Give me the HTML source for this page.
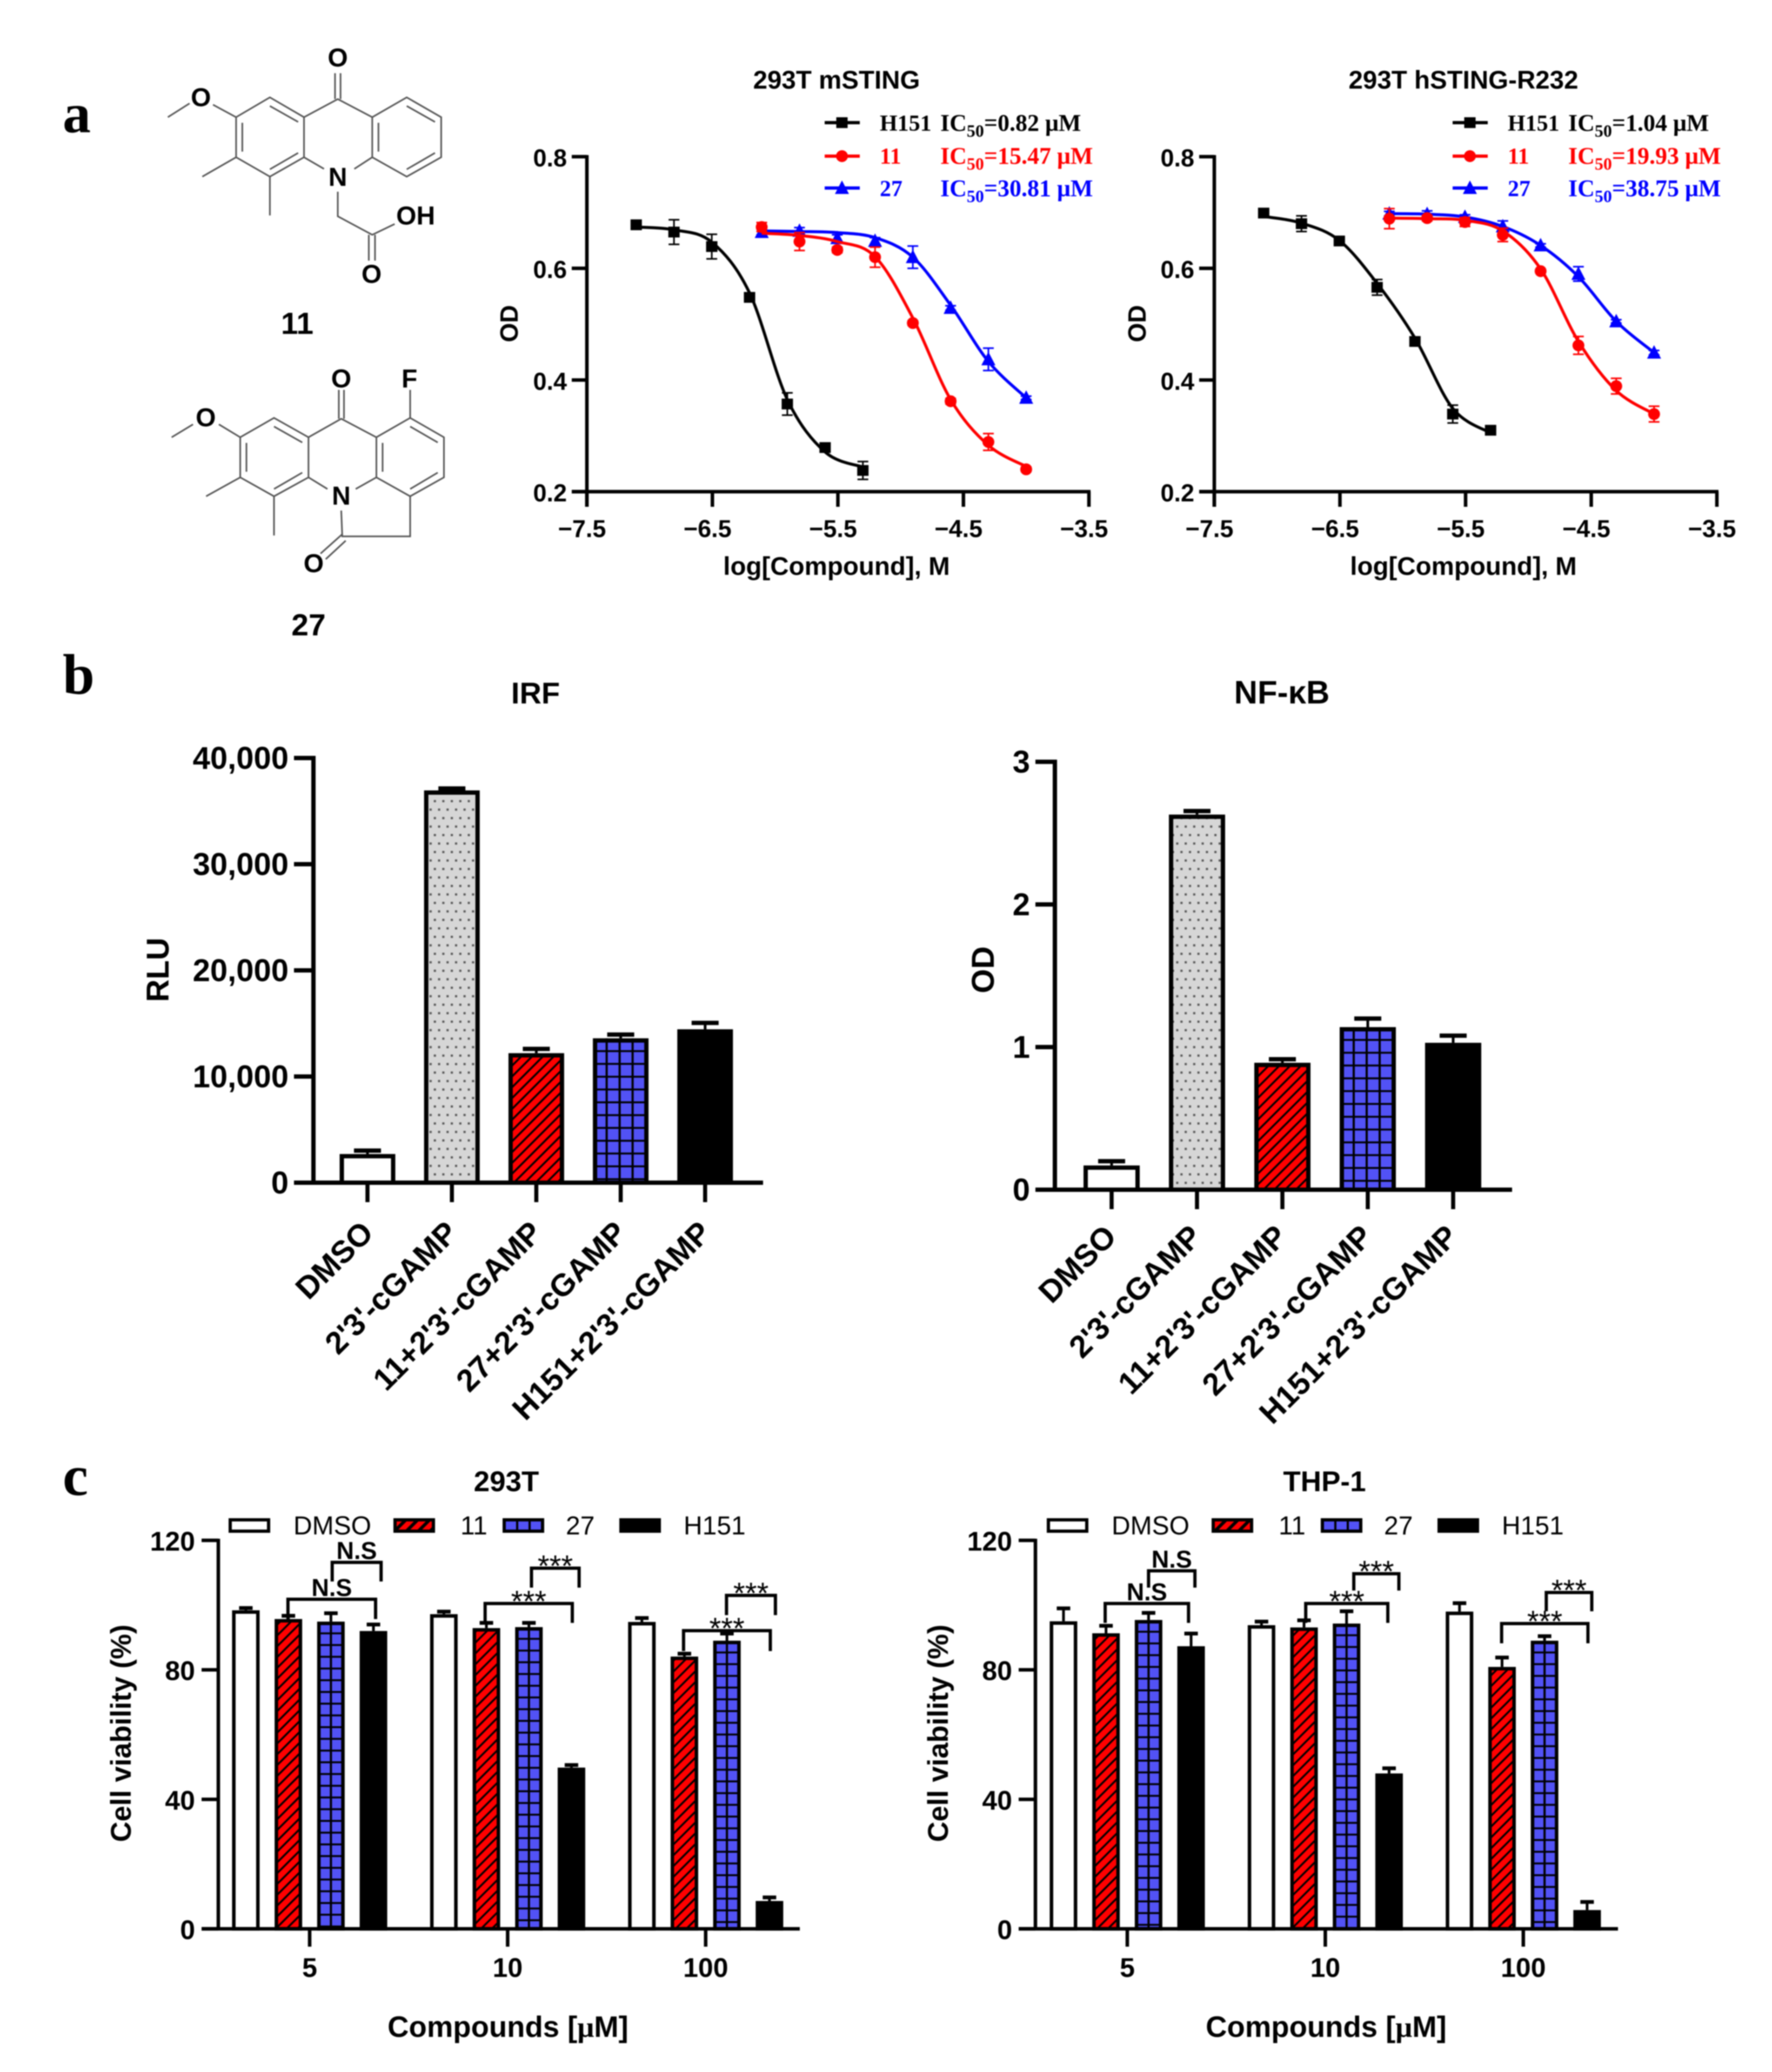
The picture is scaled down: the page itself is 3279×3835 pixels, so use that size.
<!DOCTYPE html>
<html lang="en">
<head>
<meta charset="utf-8">
<title>STING inhibitor figure</title>
<style>
html,body{margin:0;padding:0;background:#fff;}
svg{display:block;filter:blur(1.1px);}
text{font-family:"Liberation Sans",sans-serif;}
</style>
</head>
<body>
<svg id="fig" xmlns="http://www.w3.org/2000/svg" width="3279" height="3835" viewBox="0 0 3279 3835">
<defs>
<pattern id="hatch" patternUnits="userSpaceOnUse" width="20" height="20">
<rect width="20" height="20" fill="#ff0000"/>
<path d="M-5 5L5 -5M0 20L20 0M15 25L25 15" stroke="#000" stroke-width="3.6"/>
</pattern>
<pattern id="hatchLegend" patternUnits="userSpaceOnUse" width="22" height="22">
<rect width="22" height="22" fill="#ff0000"/>
<path d="M-5 5L5 -5M0 22L22 0M17 27L27 17" stroke="#000" stroke-width="6"/>
</pattern>
<pattern id="stipple" patternUnits="userSpaceOnUse" width="15.7" height="31.4">
<rect width="15.7" height="31.4" fill="#d6d6d6"/>
<rect x="2" y="5" width="4" height="4" fill="#555"/>
<rect x="9.85" y="20.7" width="4" height="4" fill="#555"/>
</pattern>
</defs>
<rect width="3279" height="3835" fill="#fff"/>
<g id="root"></g>
</svg>
<script>
// ---------- Panel a data: dose-response ----------
const logDoseH151 = [-7.107,-6.806,-6.505,-6.204,-5.903,-5.602,-5.301];
const logDoseCompound = [-6.107,-5.806,-5.505,-5.204,-4.903,-4.602,-4.301,-4.0];
const yTicksOD = [0.2,0.4,0.6,0.8];
const xTicksLog = [-7.5,-6.5,-5.5,-4.5,-3.5];

const mH151Mean = [0.678,0.665,0.639,0.548,0.357,0.279,0.238];
const mH151Err  = [0.005,0.022,0.022,0.005,0.020,0.006,0.016];
const mH151Fit  = [0.674,0.669,0.647,0.556,0.365,0.271,0.244];
const m11Mean = [0.674,0.648,0.633,0.620,0.502,0.362,0.289,0.240];
const m11Err  = [0.008,0.016,0.005,0.018,0.004,0.005,0.015,0.004];
const m11Fit  = [0.663,0.659,0.648,0.621,0.511,0.365,0.283,0.245];
const m27Mean = [0.665,0.667,0.654,0.649,0.620,0.529,0.437,0.368];
const m27Err  = [0.005,0.006,0.006,0.006,0.020,0.004,0.020,0.003];
const m27Fit  = [0.667,0.666,0.664,0.655,0.620,0.534,0.433,0.368];

const hH151Mean = [0.699,0.680,0.649,0.566,0.469,0.339,0.310];
const hH151Err  = [0.003,0.014,0.004,0.014,0.004,0.016,0.003];
const hH151Fit  = [0.693,0.681,0.650,0.573,0.475,0.349,0.305];
const h11Mean = [0.689,0.690,0.683,0.660,0.595,0.462,0.389,0.339];
const h11Err  = [0.018,0.005,0.008,0.012,0.003,0.016,0.014,0.014];
const h11Fit  = [0.690,0.689,0.686,0.667,0.599,0.469,0.381,0.339];
const h27Mean = [0.698,0.697,0.692,0.675,0.641,0.590,0.505,0.449];
const h27Err  = [0.004,0.006,0.004,0.010,0.003,0.013,0.003,0.004];
const h27Fit  = [0.698,0.697,0.692,0.675,0.641,0.585,0.505,0.449];

const legendNames = ['H151','11','27'];
const mIC50 = ['0.82','15.47','30.81'];
const hIC50 = ['1.04','19.93','38.75'];

// ---------- Panel b data: reporter bars ----------
const bCategories = ['DMSO',"2'3'-cGAMP","11+2'3'-cGAMP","27+2'3'-cGAMP","H151+2'3'-cGAMP"];
const irfMean = [2700,36950,12200,13600,14450];
const irfErr  = [320,180,400,350,600];
const irfTicks = [0,10000,20000,30000,40000];
const irfTickLabels = ['0','10,000','20,000','30,000','40,000'];
const nfkbMean = [0.17,2.63,0.89,1.14,1.03];
const nfkbErr  = [0.03,0.025,0.025,0.06,0.05];
const nfkbTicks = [0,1,2,3];
const nfkbTickLabels = ['0','1','2','3'];

// ---------- Panel c data: viability bars ----------
const cDoses = ['5','10','100'];
const cSeries = ['DMSO','11','27','H151'];
const cTicks = [0,40,80,120];
const t293Dmso = [98.4,97.2,94.8];
const t293C11  = [95.7,92.9,84.1];
const t293C27  = [94.9,93.2,89.0];
const t293H151 = [92.0,49.8,8.6];
const t293DmsoErr = [0.7,0.8,1.2];
const t293C11Err  = [1.0,1.6,0.9];
const t293C27Err  = [2.6,1.3,2.2];
const t293H151Err = [2.0,0.8,1.1];
const thpDmso = [95.0,93.8,98.0];
const thpC11  = [91.3,93.1,80.9];
const thpC27  = [95.4,94.3,89.0];
const thpH151 = [87.3,48.0,5.8];
const thpDmsoErr = [4.0,1.1,2.6];
const thpC11Err  = [2.3,2.2,2.9];
const thpC27Err  = [2.2,3.8,1.4];
const thpH151Err = [3.9,1.6,2.5];
// significance brackets: group index, bar-slot span, axis-value levels, label
const t293Brackets = [
 {g:0,a:-0.51,b:1.55,top:101.8,low:95.7,text:'N.S'},
 {g:0,a:0.53,b:1.68,top:113.2,low:107.3,text:'N.S'},
 {g:1,a:-0.53,b:1.52,top:100.5,low:94.5,text:'***'},
 {g:1,a:0.56,b:1.68,top:111.4,low:105.4,text:'***'},
 {g:2,a:-0.52,b:1.52,top:92.1,low:85.8,text:'***'},
 {g:2,a:0.49,b:1.64,top:103.0,low:96.9,text:'***'}
];
const thpBrackets = [
 {g:0,a:-0.52,b:1.44,top:100.5,low:94.5,text:'N.S'},
 {g:0,a:0.50,b:1.59,top:110.6,low:105.4,text:'N.S'},
 {g:1,a:-0.46,b:1.47,top:100.5,low:94.5,text:'***'},
 {g:1,a:0.67,b:1.73,top:109.7,low:104.5,text:'***'},
 {g:2,a:-0.51,b:1.52,top:94.3,low:88.2,text:'***'},
 {g:2,a:0.54,b:1.61,top:103.9,low:98.1,text:'***'}
];

const NS = 'http://www.w3.org/2000/svg';
const root = document.getElementById('root');

function el(tag, attrs, name, parent) {
  const node = document.createElementNS(NS, tag);
  for (const k in attrs) node.setAttribute(k, attrs[k]);
  
  
  (parent || root).appendChild(node);
  return node;
}
function txt(x, y, s, size, opts, name, parent) {
  const o = opts || {};
  const a = {x: x, y: y, 'font-size': size, 'font-weight': o.weight || 'bold', 'text-anchor': o.anchor || 'middle', fill: o.fill || '#000'};
  if (o.family) a['style'] = 'font-family:' + o.family;
  if (o.rotate !== undefined) a.transform = 'rotate(' + o.rotate + ' ' + x + ' ' + y + ')';
  const t = el('text', a, name, parent);
  if (o.html) t.innerHTML = s; else t.textContent = s;
  return t;
}
function line(x1, y1, x2, y2, w, color, name, parent) {
  return el('line', {x1: x1, y1: y1, x2: x2, y2: y2, stroke: color || '#000', 'stroke-width': w}, name, parent);
}
function smooth(pts) {
  let d = 'M' + pts[0][0].toFixed(1) + ' ' + pts[0][1].toFixed(1);
  for (let i = 0; i < pts.length - 1; i++) {
    const p0 = pts[Math.max(i - 1, 0)], p1 = pts[i], p2 = pts[i + 1], p3 = pts[Math.min(i + 2, pts.length - 1)];
    const c1x = p1[0] + (p2[0] - p0[0]) / 6, c1y = p1[1] + (p2[1] - p0[1]) / 6;
    const c2x = p2[0] - (p3[0] - p1[0]) / 6, c2y = p2[1] - (p3[1] - p1[1]) / 6;
    d += 'C' + c1x.toFixed(1) + ' ' + c1y.toFixed(1) + ' ' + c2x.toFixed(1) + ' ' + c2y.toFixed(1) + ' ' + p2[0].toFixed(1) + ' ' + p2[1].toFixed(1);
  }
  return d;
}

// ---------- Panel letters ----------
const SERIF = '"Liberation Serif",serif';
txt(116, 245, 'a', 104, {anchor: 'start', family: SERIF}, 'panel-label-a');
txt(116, 1284, 'b', 106, {anchor: 'start', family: SERIF}, 'panel-label-b');
txt(116, 2767, 'c', 106, {anchor: 'start', family: SERIF}, 'panel-label-c');

// ---------- Chemical structures ----------
function structure(name, bonds, atoms, label) {
  const g = el('g', {}, name);
  const inner = el('g', {transform: 'scale(0.6378,0.7974)'}, name + '-bonds', g);
  el('path', {d: bonds, fill: 'none', stroke: '#555', 'stroke-width': 3, 'vector-effect': 'non-scaling-stroke'}, name + '-skeleton', inner);
  atoms.forEach(function (a) {
    txt(a[0] * 0.6378, a[1] * 0.7974 + 17, a[2], 48, {}, name + '-atom-' + a[2].toLowerCase(), g);
  });
  txt(label[0], label[1], label[2], 57, {}, name + '-label', g);
}
structure('compound-11-structure',
 'M685 272L783 226L882 272L882 365L783 410L685 365ZM882 272L980 230L1080 272L1080 365L1028 392M940 392L882 365M1080 272L1180 226L1280 272L1280 365L1180 410L1080 365' +
 'M783 246L865 283M703 285L703 352M783 393L865 355M1098 285L1098 352M1180 246L1262 283M1180 393L1262 355' +
 'M972 230L972 170M988 230L988 170M685 272L618 243M550 240L487 272M685 365L587 410M783 410L783 500' +
 'M980 445L980 502L1080 545L1145 520M1070 545L1070 605M1088 545L1088 605',
 [[980,133,'O'],[583,225,'O'],[980,410,'N'],[1206,500,'OH'],[1078,635,'O']], [550, 618, '11']);
structure('compound-27-structure',
 'M697 1015L795 970L895 1015L895 1108L795 1152L697 1108ZM895 1015L990 972L1092 1015L1092 1108L1032 1135M950 1135L895 1108M1092 1015L1190 970L1288 1015L1288 1108L1190 1152L1092 1108' +
 'M795 990L877 1027M715 1028L715 1095M795 1135L877 1097M1110 1028L1110 1095M1190 990L1270 1027M1190 1135L1270 1097' +
 'M983 972L983 905M998 972L998 905M1190 970L1190 905M697 1015L635 985M560 985L498 1015M697 1108L598 1152M795 1152L795 1243' +
 'M990 1185L993 1245L1190 1245L1190 1152M993 1240L930 1285M1003 1255L945 1298',
 [[990,878,'O'],[1188,878,'F'],[597,968,'O'],[990,1150,'N'],[910,1307,'O']], [571, 1176, '27']);

// ---------- Panel a charts ----------
function marker(kind, x, y, color, name, parent) {
  if (kind === 'square') return el('rect', {x: x - 10.5, y: y - 10, width: 21, height: 20, fill: color}, name, parent);
  if (kind === 'circle') return el('circle', {cx: x, cy: y, r: 11, fill: color}, name, parent);
  return el('polygon', {points: (x) + ',' + (y - 14) + ' ' + (x - 13) + ',' + (y + 11) + ' ' + (x + 13) + ',' + (y + 11), fill: color}, name, parent);
}
function doseSeries(g, sx, sy, xs, mean, err, fit, color, kind, name) {
  const sg = el('g', {}, name, g);
  const pts = xs.map(function (v, i) { return [sx(v), sy(fit[i])]; });
  el('path', {d: smooth(pts), fill: 'none', stroke: color, 'stroke-width': 5.5}, name + '-fit-curve', sg);
  xs.forEach(function (v, i) {
    const x = sx(v), yT = sy(mean[i] + err[i]), yB = sy(mean[i] - err[i]);
    line(x, yT, x, yB, 3, color, name + '-error-bar', sg);
    line(x - 10, yT, x + 10, yT, 3, color, name + '-error-cap', sg);
    line(x - 10, yB, x + 10, yB, 3, color, name + '-error-cap', sg);
    marker(kind, x, sy(mean[i]), color, name + '-point', sg);
  });
}
function doseChart(opt) {
  const g = el('g', {}, opt.name);
  const sx = function (v) { return opt.x0 + (v + 7.5) / 4 * (opt.x1 - opt.x0); };
  const sy = function (v) { return 910 - (v - 0.2) / 0.6 * 620; };
  line(opt.x0, sy(0.8) - 3, opt.x0, 910 + 28, 6.5, '#000', 'y-axis', g);
  line(opt.x0 - 28, 910, opt.x1 + 3, 910, 6.5, '#000', 'x-axis', g);
  yTicksOD.forEach(function (t) {
    line(opt.x0 - 28, sy(t), opt.x0, sy(t), 6.5, '#000', 'y-tick', g);
    txt(opt.x0 - 37, sy(t) + 18, t.toFixed(1), 45, {anchor: 'end'}, 'y-tick-label', g);
  });
  xTicksLog.forEach(function (t) {
    line(sx(t), 910, sx(t), 938, 6.5, '#000', 'x-tick', g);
    txt(sx(t) - 9, 994, '\u2212' + Math.abs(t).toFixed(1), 45, {}, 'x-tick-label', g);
  });
  txt(opt.titleX, 164, opt.title, 47.5, {}, 'chart-title', g);
  txt(opt.titleX, 1064, 'log[Compound], M', 47.5, {}, 'x-axis-title', g);
  txt(opt.odX + 16, 599, 'OD', 46, {rotate: -90}, 'y-axis-title', g);
  doseSeries(g, sx, sy, logDoseCompound, opt.c27[0], opt.c27[1], opt.c27[2], '#0000ff', 'triangle', 'series-27');
  doseSeries(g, sx, sy, logDoseCompound, opt.c11[0], opt.c11[1], opt.c11[2], '#ff0000', 'circle', 'series-11');
  doseSeries(g, sx, sy, logDoseH151, opt.h151[0], opt.h151[1], opt.h151[2], '#000', 'square', 'series-h151');
  const colors = ['#000', '#ff0000', '#0000ff'], kinds = ['square', 'circle', 'triangle'], ly = [227, 289, 348], by = [242, 303, 363];
  legendNames.forEach(function (n, i) {
    const lg = el('g', {}, 'legend-entry-' + n.toLowerCase(), g);
    line(opt.legX, ly[i], opt.legX + 65, ly[i], 6, colors[i], 'legend-line', lg);
    marker(kinds[i], opt.legX + 32, ly[i], colors[i], 'legend-marker', lg);
    txt(opt.legX + 102, by[i], n, 42, {anchor: 'start', fill: colors[i], family: SERIF}, 'legend-name', lg);
    txt(opt.legX + 214, by[i], 'IC<tspan dy="11" font-size="32">50</tspan><tspan dy="-11">=' + opt.ic[i] + ' \u03bcM</tspan>', 44,
      {anchor: 'start', fill: colors[i], family: SERIF, html: true}, 'legend-ic50', lg);
  });
}
doseChart({name: 'chart-293t-msting', x0: 1086, x1: 2015, title: '293T mSTING', titleX: 1548, odX: 942, legX: 1526, ic: mIC50,
  h151: [mH151Mean, mH151Err, mH151Fit], c11: [m11Mean, m11Err, m11Fit], c27: [m27Mean, m27Err, m27Fit]});
doseChart({name: 'chart-293t-hsting-r232', x0: 2247, x1: 3177, title: '293T hSTING-R232', titleX: 2708, odX: 2104, legX: 2688, ic: hIC50,
  h151: [hH151Mean, hH151Err, hH151Fit], c11: [h11Mean, h11Err, h11Fit], c27: [h27Mean, h27Err, h27Fit]});

// ---------- Bars ----------
function gridLines(g, xL, xR, yT, yB, rowStep, colXs, w, name) {
  for (let y = yT + rowStep; y < yB - 4; y += rowStep) line(xL, y, xR, y, 3.5, '#000', name + '-grid-row', g);
  colXs.forEach(function (cx) { line(cx, yT, cx, yB, 4, '#000', name + '-grid-col', g); });
}
function bar(g, cx, w, yTop, yBase, sw, kind, name) {
  const x = cx - w / 2;
  const fills = {white: '#fff', stipple: 'url(#stipple)', hatch: 'url(#hatch)', grid: '#5252f5', black: '#000'};
  el('rect', {x: x + sw / 2, y: yTop + sw / 2, width: w - sw, height: Math.max(yBase - yTop - sw / 2, 0), fill: fills[kind], stroke: '#000', 'stroke-width': sw}, name, g);
}
function errBar(g, cx, yTop, yErr, capW, thick, name) {
  line(cx, yTop, cx, yErr, 5, '#000', name + '-error-stem', g);
  line(cx - capW / 2, yErr, cx + capW / 2, yErr, thick, '#000', name + '-error-cap', g);
}
function reporterChart(o) {
  const g = el('g', {}, o.name);
  const sy = function (v) { return o.y0 - v / o.max * (o.y0 - o.yTop); };
  const kinds = ['white', 'stipple', 'hatch', 'grid', 'black'];
  bCategories.forEach(function (c, i) {
    const cx = o.c0 + i * o.step, yT = sy(o.mean[i]), nm = 'bar-' + c.toLowerCase().replace(/[^a-z0-9]+/g, '-');
    errBar(g, cx, yT, sy(o.mean[i] + o.err[i]), 50, 8, nm);
    bar(g, cx, o.bw, yT, o.y0, 8, kinds[i], nm);
    if (kinds[i] === 'grid') gridLines(g, cx - o.bw / 2 + 5, cx + o.bw / 2 - 5, yT, o.y0, 23.7, [cx - 26, cx - 2, cx + 22], o.bw, nm);
    line(cx, o.y0, cx, o.y0 + 36, 7.5, '#000', 'x-tick', g);
    txt(cx + o.ldx, o.y0 + o.ldy, c, 58, {anchor: 'end', rotate: -45}, 'x-tick-label', g);
  });
  line(o.x0, o.yTop - 4, o.x0, o.y0, 8, '#000', 'y-axis', g);
  line(o.x0 - 36, o.y0, o.xEnd, o.y0, 8, '#000', 'x-axis', g);
  o.ticks.forEach(function (t, i) {
    line(o.x0 - 36, sy(t), o.x0, sy(t), 8, '#000', 'y-tick', g);
    txt(o.x0 - 46, sy(t) + 20, o.labels[i], 58, {anchor: 'end'}, 'y-tick-label', g);
  });
  txt(o.titleX, 1302, o.title, o.titleSize, {}, 'chart-title', g);
  txt(o.yLabX + 20, 1795, o.yLab, 58, {rotate: -90}, 'y-axis-title', g);
}
reporterChart({name: 'chart-irf', x0: 580, xEnd: 1412, y0: 2189, yTop: 1403, max: 40000, c0: 680, step: 156.2, bw: 103, mean: irfMean, err: irfErr,
  ticks: irfTicks, labels: irfTickLabels, title: 'IRF', titleSize: 56, titleX: 991, yLab: 'RLU', yLabX: 292, ldx: 14, ldy: 96});
reporterChart({name: 'chart-nf-kb', x0: 1952, xEnd: 2798, y0: 2202, yTop: 1410, max: 3, c0: 2057, step: 158, bw: 104, mean: nfkbMean, err: nfkbErr,
  ticks: nfkbTicks, labels: nfkbTickLabels, title: 'NF-\u03baB', titleSize: 60, titleX: 2372, yLab: 'OD', yLabX: 1819, ldx: 12, ldy: 90});

// ---------- Viability charts ----------
function viabilityChart(o) {
  const g = el('g', {}, o.name);
  const Y0 = 3570, YT = 2851, slot = 78.7;
  const sy = function (v) { return Y0 - v / 120 * (Y0 - YT); };
  const sx = function (gi, s) { return o.c0 + gi * 366.4 + s * slot; };
  const kinds = ['white', 'hatch', 'grid', 'black'];
  cDoses.forEach(function (d, gi) {
    kinds.forEach(function (k, si) {
      const cx = sx(gi, si - 1.5), v = o.series[si][gi], yT = sy(v), nm = 'bar-' + cSeries[si].toLowerCase() + '-dose-' + d;
      errBar(g, cx, yT, sy(v + o.errs[si][gi]), 25, 7, nm);
      bar(g, cx, 51, yT, Y0, 6.5, k, nm);
      if (k === 'grid') gridLines(g, cx - 22, cx + 22, yT, Y0, 21.7, [cx], 50, nm);
    });
    line(sx(gi, 0), Y0, sx(gi, 0), Y0 + 33, 6.5, '#000', 'x-tick', g);
    txt(sx(gi, 0), 3659, d, 50, {}, 'x-tick-label', g);
  });
  line(o.x0, YT - 3, o.x0, Y0, 6.5, '#000', 'y-axis', g);
  line(o.x0 - 31, Y0, o.xEnd, Y0, 6.5, '#000', 'x-axis', g);
  cTicks.forEach(function (t) {
    line(o.x0 - 31, sy(t), o.x0, sy(t), 6.5, '#000', 'y-tick', g);
    txt(o.x0 - 43, sy(t) + 19, String(t), 50, {anchor: 'end'}, 'y-tick-label', g);
  });
  o.brackets.forEach(function (b) {
    const xa = sx(b.g, b.a), xb = sx(b.g, b.b), yt = sy(b.top), yl = sy(b.low);
    el('polyline', {points: xa + ',' + yl + ' ' + xa + ',' + yt + ' ' + xb + ',' + yt + ' ' + xb + ',' + yl, fill: 'none', stroke: '#000', 'stroke-width': 6}, 'significance-bracket', g);
    const mid = (xa + xb) / 2;
    if (b.text === 'N.S') txt(mid, yt - 6, b.text, 45, {}, 'significance-label', g);
    else txt(mid, yt + 15, b.text, 56, {weight: 'normal'}, 'significance-label', g);
  });
  txt(o.titleX, 2760, o.title, 53, {}, 'chart-title', g);
  txt(o.labX, 3770, 'Compounds [<tspan style="font-family:\'Liberation Serif\',serif">\u03bc</tspan>M]', 54.5, {html: true}, 'x-axis-title', g);
  txt(o.yLabX + 18, 3208, 'Cell viability (%)', 52.5, {rotate: -90}, 'y-axis-title', g);
  const boxX = [423, 728, 930, 1146], textX = [543, 852, 1047, 1265];
  cSeries.forEach(function (s, i) {
    const lg = el('g', {}, 'legend-entry-' + s.toLowerCase(), g);
    const bx = boxX[i] + o.legDx;
    const fill = ['#fff', 'url(#hatchLegend)', '#5252f5', '#000'][i];
    el('rect', {x: bx + 3, y: 2813, width: 71, height: 21, fill: fill, stroke: '#000', 'stroke-width': 6}, 'legend-swatch', lg);
    if (i === 2) [bx + 27, bx + 50].forEach(function (lx) { line(lx, 2813, lx, 2834, 4, '#000', 'legend-swatch-grid', lg); });
    txt(textX[i] + o.legDx, 2840, s, 48, {anchor: 'start', weight: 'normal'}, 'legend-label', lg);
  });
}
viabilityChart({name: 'chart-293t-viability', x0: 404, xEnd: 1480, c0: 573, title: '293T', titleX: 937, labX: 940, yLabX: 224, legDx: 0,
  series: [t293Dmso, t293C11, t293C27, t293H151], errs: [t293DmsoErr, t293C11Err, t293C27Err, t293H151Err], brackets: t293Brackets});
viabilityChart({name: 'chart-thp1-viability', x0: 1916, xEnd: 2994, c0: 2086, title: 'THP-1', titleX: 2451, labX: 2454, yLabX: 1736, legDx: 1514,
  series: [thpDmso, thpC11, thpC27, thpH151], errs: [thpDmsoErr, thpC11Err, thpC27Err, thpH151Err], brackets: thpBrackets});
</script>
</body>
</html>
